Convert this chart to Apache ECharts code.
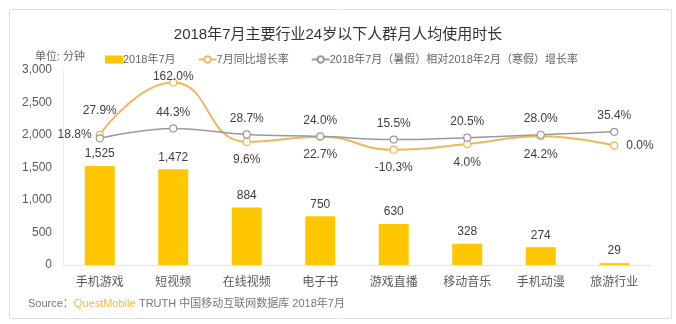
<!DOCTYPE html>
<html><head><meta charset="utf-8">
<script src="https://cdn.jsdelivr.net/npm/echarts@6/dist/echarts.min.js"></script>
<style>html,body{margin:0;padding:0;background:#fff}#c{width:676px;height:324px}</style>
</head><body><div id="c"></div>
<script>
var categories = ['手机游戏','短视频','在线视频','电子书','游戏直播','移动音乐','手机动漫','旅游行业'];
var minutes = [1525,1472,884,750,630,328,274,29];
var yoyGrowth = [27.9,162.0,9.6,22.7,-10.3,4.0,24.2,0.0];
var summerGrowth = [18.8,44.3,28.7,24.0,15.5,20.5,28.0,35.4];
var yTicks = [0,500,1000,1500,2000,2500,3000];

var FONT = '"Liberation Sans","Noto Sans CJK SC",sans-serif';
var yoyPos = ['top','top','bottom','bottom','bottom','bottom','bottom','right'];
var sumPos = ['left','top','top','top','top','top','top','top'];
function fmtPct(v){return v.toFixed(1)+'%';}
function comma(v){return String(v).replace(/\B(?=(\d{3})+(?!\d))/g, ',');}

var chart = echarts.init(document.getElementById('c'), null, {renderer:'canvas'});
chart.setOption({
  backgroundColor:'#fff',
  textStyle:{fontFamily:FONT},
  title:{text:'2018年7月主要行业24岁以下人群月人均使用时长',left:'center',top:22,
    textStyle:{fontSize:15,fontWeight:'normal',color:'#333',fontFamily:FONT}},
  legend:{left:100,top:49,itemGap:22,itemWidth:18,itemHeight:8,
    textStyle:{fontSize:11,color:'#666',fontFamily:FONT,padding:[0,0,0,-5]},
    data:[{name:'2018年7月',icon:'rect'},
          {name:'7月同比增长率'},
          {name:'2018年7月（暑假）相对2018年2月（寒假）增长率'}]},
  grid:{left:63,right:25,top:70,bottom:59},
  xAxis:{type:'category',data:categories,
    axisLine:{lineStyle:{color:'#e6e6e6'}},axisTick:{show:false},
    axisLabel:{color:'#595959',fontSize:12,margin:12,fontFamily:FONT}},
  yAxis:[{type:'value',min:yTicks[0],max:yTicks[yTicks.length-1],interval:500,
    axisLine:{show:true,lineStyle:{color:'#ececec'}},axisTick:{show:false},splitLine:{show:false},
    axisLabel:{color:'#595959',fontSize:12,margin:11,formatter:function(v){return comma(v);}}},
   {type:'value',min:-306,max:194,show:false,splitLine:{show:false}}],
  series:[
    {name:'2018年7月',type:'bar',data:minutes,barWidth:30,
     itemStyle:{color:'#FFC700'},
     label:{show:true,position:'top',distance:6,color:'#404040',fontSize:12,
       formatter:function(p){return comma(p.value);}}},
    {name:'7月同比增长率',type:'line',yAxisIndex:1,smooth:0.5,
     data:yoyGrowth.map(function(v,i){return {value:v,label:{position:yoyPos[i],distance:i==1?-4:(yoyPos[i]=='top'?14:8)}};}),
     symbol:'circle',symbolSize:7,
     lineStyle:{color:'#EDB85C',width:2},
     itemStyle:{color:'#fff',borderColor:'#EDB85C',borderWidth:1.2},
     label:{show:true,color:'#404040',fontSize:12,formatter:function(p){return fmtPct(p.value);}},
     z:3},
    {name:'2018年7月（暑假）相对2018年2月（寒假）增长率',type:'line',yAxisIndex:1,smooth:0.4,
     data:summerGrowth.map(function(v,i){return {value:v,label:{position:sumPos[i],distance:sumPos[i]=='left'?4:6,offset:sumPos[i]=='left'?[0,-4]:[0,0]}};}),
     symbol:'circle',symbolSize:7,
     lineStyle:{color:'#9a9a9a',width:1.5},
     itemStyle:{color:'#fff',borderColor:'#9a9a9a',borderWidth:1.2},
     label:{show:true,color:'#404040',fontSize:12,formatter:function(p){return fmtPct(p.value);}},
     z:4}
  ],
  graphic:[
    {type:'rect',left:7,top:7,shape:{width:662,height:309},silent:true,z:-1,
     style:{fill:'none',stroke:'#e2e2e2',lineWidth:1}},
    {type:'text',left:35,top:51,style:{text:'单位: 分钟',fontSize:11,fill:'#666',fontFamily:FONT}},
    {type:'text',left:28,top:298,style:{text:'{a|Source：}{b|QuestMobile} {a|TRUTH 中国移动互联网数据库 2018年7月}',
      rich:{a:{fontSize:11,fill:'#777',fontFamily:FONT},b:{fontSize:11,fill:'#F5B93E',fontFamily:FONT}}}}
  ]
});
</script></body></html>
